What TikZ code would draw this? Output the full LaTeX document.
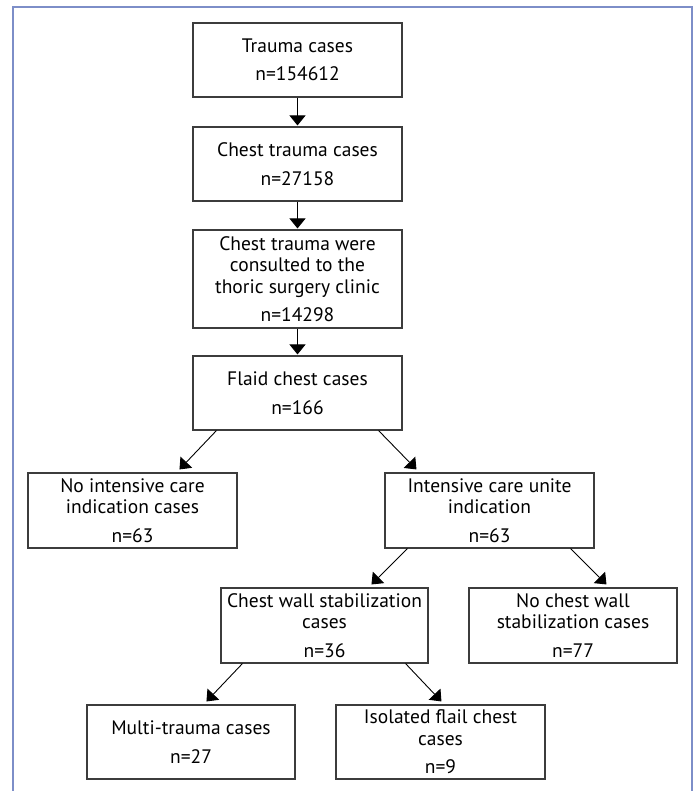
\documentclass[tikz,border=0pt]{standalone}
\usepackage{fontspec}
\setmainfont{PT Sans}
\usetikzlibrary{arrows.meta}
\definecolor{framecol}{RGB}{125,142,200}
\definecolor{boxline}{RGB}{60,60,60}
\tikzset{
  box/.style={draw=boxline, line width=1.1pt, fill=white, rectangle, inner sep=0pt,
    minimum width=209pt, align=center, font=\fontsize{19.5}{21.5}\selectfont},
  arr/.style={draw=black, line width=0.9pt, -{Triangle[length=10pt,width=16pt]}}
}
\begin{document}
\begin{tikzpicture}[x=1pt,y=-1pt]
\useasboundingbox (0,0) rectangle (696,791);
\draw[framecol, line width=2pt] (13,791) -- (13,7) -- (692,7) -- (692,791);

\node[box, minimum height=74pt] (b1) at (297.5,60) {Trauma cases\\[7pt]n=154612};
\node[box, minimum height=74pt] (b2) at (297.5,164) {Chest trauma cases\\[7pt]n=27158};
\node[box, minimum height=98pt] (b3) at (297.5,279) {Chest trauma were\\consulted to the\\thoric surgery clinic\\[7pt]n=14298};
\node[box, minimum height=74pt] (b4) at (297.5,393) {Flaid chest cases\\[7pt]n=166};
\node[box, minimum height=75pt] (b5) at (132.5,510.5) {No intensive care\\indication cases\\[7pt]n=63};
\node[box, minimum height=75pt] (b6) at (489.5,510.5) {Intensive care unite\\indication\\[7pt]n=63};
\node[box, minimum height=75pt, minimum width=207pt] (b7) at (324.5,625.5) {Chest wall stabilization\\cases\\[7pt]n=36};
\node[box, minimum height=75pt, minimum width=208pt] (b8) at (573,625.5) {No chest wall\\stabilization cases\\[7pt]n=77};
\node[box, minimum height=74pt, minimum width=208pt] (b9) at (191,742) {Multi-trauma cases\\[7pt]n=27};
\node[box, minimum height=74pt] (b10) at (440.5,742) {Isolated flail chest\\cases\\[7pt]n=9};

\draw[arr] (b1.south) -- ([yshift=1pt]b2.north);
\draw[arr] (b2.south) -- ([yshift=1pt]b3.north);
\draw[arr] (b3.south) -- ([yshift=1pt]b4.north);
\draw[arr] ([xshift=24pt]b4.south west) -- ([xshift=152pt,yshift=3pt]b5.north west);
\draw[arr] ([xshift=-24pt]b4.south east) -- ([xshift=32pt,yshift=3pt]b6.north west);
\draw[arr] ([xshift=23pt]b6.south west) -- ([xshift=151pt,yshift=3pt]b7.north west);
\draw[arr] ([xshift=-24pt]b6.south east) -- ([xshift=138pt,yshift=3pt]b8.north west);
\draw[arr] ([xshift=22pt]b7.south west) -- ([xshift=120pt,yshift=3pt]b9.north west);
\draw[arr] ([xshift=-23pt]b7.south east) -- ([xshift=106pt,yshift=3pt]b10.north west);
\end{tikzpicture}
\end{document}
